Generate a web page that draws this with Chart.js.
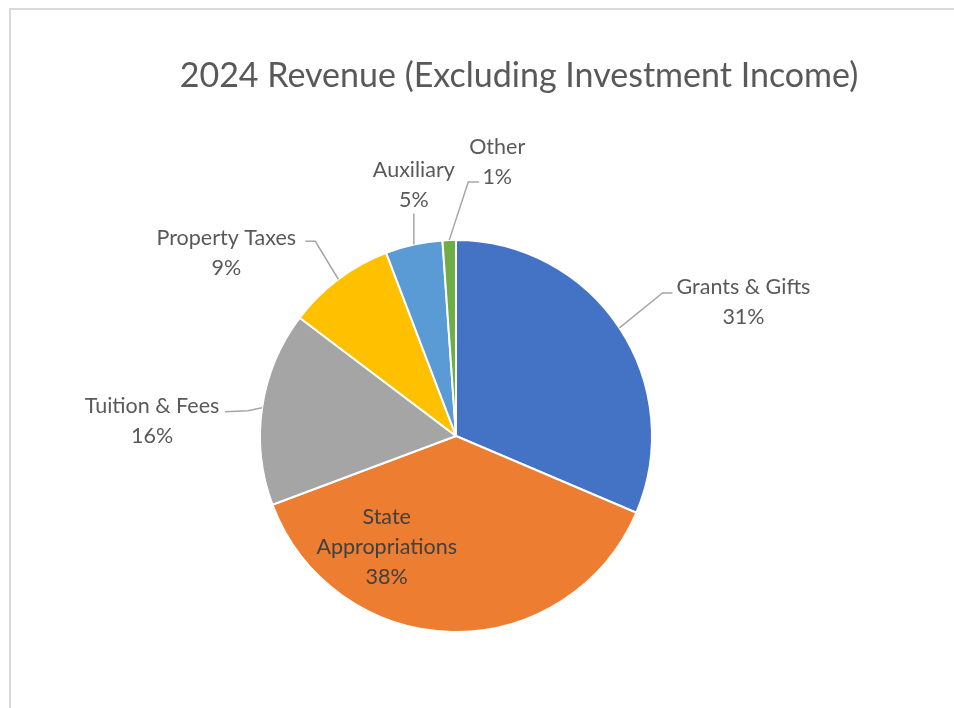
<!DOCTYPE html>
<html>
<head>
<meta charset="utf-8">
<script src="https://cdn.jsdelivr.net/npm/chart.js@4"></script>
<style>
    html, body { margin: 0; padding: 0; background: #fff; }
    #wrap { position: relative; width: 954px; height: 708px; }
</style>
</head>
<body>
<div id="wrap"><canvas id="revenueChart"></canvas></div>
<script>
const titleText = '2024 Revenue (Excluding Investment Income)';
const categories = ['Grants & Gifts', 'State Appropriations', 'Tuition & Fees', 'Property Taxes', 'Auxiliary', 'Other'];
const shares = [31.4, 37.9, 16.0, 8.9, 4.7, 1.1];
const sliceColors = ['#4472C4', '#ED7D31', '#A5A5A5', '#FFC000', '#5B9BD5', '#70AD47'];

// label placement relative to the slice's outer edge midpoint (Excel style manual layout)
const labelLayout = [
    { dx: 124, dy: -26, leader: [[43, -35], [53, -35]] },
    { dx: -65, dy: -85, leader: null, color: '#404040', lines: ['State', 'Appropriations'] },
    { dx: -110, dy: 13, leader: [[-14, 3], [-37, 4]] },
    { dx: -112, dy: -26, leader: [[-23, -38], [-33, -38]] },
    { dx: 0, dy: -60, leader: [[0, -31]] },
    { dx: 48, dy: -78, leader: [[19, -58], [30, -58]] }
];

const labelFont = '21.5px Lato';
const lineHeight = 30;

const excelLabels = {
    id: 'excelLabels',
    afterDraw(chart) {
        const ctx = chart.ctx;
        const meta = chart.getDatasetMeta(0);
        const values = chart.data.datasets[0].data;
        const total = values.reduce((a, b) => a + b, 0);

        ctx.save();
        // frame
        ctx.strokeStyle = '#d9d9d9';
        ctx.lineWidth = 2;
        ctx.beginPath();
        ctx.moveTo(10, 708);
        ctx.lineTo(10, 9);
        ctx.lineTo(954, 9);
        ctx.stroke();

        // title
        ctx.fillStyle = '#595959';
        ctx.font = '34px Lato';
        ctx.textAlign = 'center';
        ctx.textBaseline = 'middle';
        ctx.fillText(titleText, 519, 76);

        meta.data.forEach((arc, i) => {
            const p = arc.getProps(['x', 'y', 'startAngle', 'endAngle', 'outerRadius'], true);
            const mid = (p.startAngle + p.endAngle) / 2;
            const ax = p.x + Math.cos(mid) * p.outerRadius;
            const ay = p.y + Math.sin(mid) * p.outerRadius;
            const lay = labelLayout[i];

            if (lay.leader) {
                ctx.strokeStyle = '#a6a6a6';
                ctx.lineWidth = 1.5;
                ctx.beginPath();
                ctx.moveTo(ax, ay);
                lay.leader.forEach(pt => ctx.lineTo(ax + pt[0], ay + pt[1]));
                ctx.stroke();
            }

            const pct = Math.round(values[i] / total * 100) + '%';
            const lines = (lay.lines || [chart.data.labels[i]]).concat([pct]);
            const cx = ax + lay.dx;
            const cy = ay + lay.dy;
            ctx.fillStyle = lay.color || '#595959';
            ctx.font = labelFont;
            lines.forEach((t, k) => {
                ctx.fillText(t, cx, cy + (k - (lines.length - 1) / 2) * lineHeight);
            });
        });
        ctx.restore();
    }
};

new Chart(document.getElementById('revenueChart').getContext('2d'), {
    type: 'pie',
    data: {
        labels: categories,
        datasets: [{
            data: shares,
            backgroundColor: sliceColors,
            borderColor: '#ffffff',
            borderWidth: 2
        }]
    },
    options: {
        responsive: true,
        maintainAspectRatio: false,
        animation: false,
        layout: {
            padding: { left: 259, right: 301, top: 239, bottom: 75 }
        },
        plugins: {
            legend: { display: false },
            tooltip: { enabled: false },
            title: { display: false }
        }
    },
    plugins: [excelLabels]
});
</script>
</body>
</html>
